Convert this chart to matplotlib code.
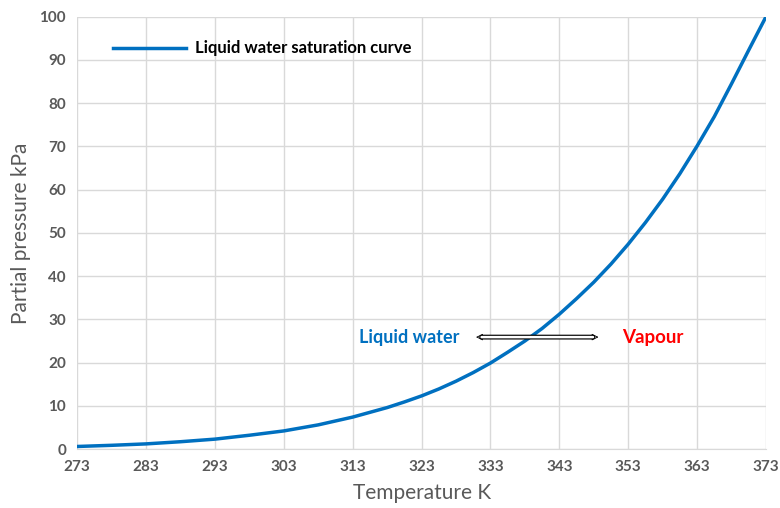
import matplotlib
matplotlib.use('Agg')
from matplotlib import pyplot as plt

# temperatures (K) and saturation pressure (kPa)
temp = [273, 278, 283, 288, 293, 298, 303, 308, 313, 315.5, 318, 320.5, 323,
        325.5, 328, 330.5, 333, 335.5, 338, 340.5, 343, 345.5, 348, 350.5,
        353, 355.5, 358, 360.5, 363, 365.5, 368, 370.5, 373]
pressure = [0.6, 0.87, 1.2, 1.7, 2.3, 3.2, 4.2, 5.6, 7.4, 8.5, 9.6, 10.9, 12.3,
            13.9, 15.7, 17.7, 19.9, 22.4, 25.0, 27.9, 31.2, 34.8, 38.6, 42.8,
            47.4, 52.4, 57.8, 63.7, 70.1, 76.9, 84.5, 92.3, 100.0]

x_ticks = [273, 283, 293, 303, 313, 323, 333, 343, 353, 363, 373]
y_ticks = [0, 10, 20, 30, 40, 50, 60, 70, 80, 90, 100]

plt.rcParams['font.family'] = ['Lato', 'DejaVu Sans']

fig = plt.figure(figsize=(7.8, 5.08), dpi=100)
ax = fig.add_axes([0.099, 0.116, 0.883, 0.851])

ax.plot(temp, pressure, color='#0070C0', lw=2.5, label='Liquid water saturation curve')

ax.set_xlim(273, 373)
ax.set_ylim(0, 100)
ax.set_xticks(x_ticks)
ax.set_yticks(y_ticks)
ax.grid(True, color='#d9d9d9', lw=1)
ax.set_axisbelow(True)
for s in ['top', 'right', 'left']:
    ax.spines[s].set_visible(False)
ax.spines['bottom'].set_color('#d9d9d9')
ax.tick_params(length=0, labelsize=11, labelcolor='#595959', pad=8)
for lab in ax.get_xticklabels() + ax.get_yticklabels():
    lab.set_fontweight('bold')

ax.set_xlabel('Temperature K', fontsize=15, color='#595959', labelpad=6)
ax.set_ylabel('Partial pressure kPa', fontsize=15, color='#595959', labelpad=6)

leg = ax.legend(loc='upper left', bbox_to_anchor=(0.03, 0.98), frameon=False,
                handlelength=4.4, handletextpad=0.5,
                prop={'weight': 'bold', 'size': 12})

# arrow between the two phase labels
ax.annotate('', xy=(330.5, 25.9), xytext=(349.1, 25.9),
            arrowprops=dict(arrowstyle='<|-|>', color='black', lw=0.6,
                            fc='white', mutation_scale=10))
ax.annotate('', xy=(330.5, 25.9), xytext=(349.1, 25.9),
            arrowprops=dict(arrowstyle='-', color='black', lw=3.5,
                            shrinkA=6, shrinkB=6))
ax.annotate('', xy=(330.5, 25.9), xytext=(349.1, 25.9),
            arrowprops=dict(arrowstyle='-', color='white', lw=1.8,
                            shrinkA=6, shrinkB=6))
ax.text(321.2, 25.9, 'Liquid water', color='#0070C0', fontsize=13,
        fontweight='bold', ha='center', va='center')
ax.text(356.5, 25.9, 'Vapour', color='#FF0000', fontsize=13.5,
        fontweight='bold', ha='center', va='center')

plt.savefig('out.png', dpi=100)
